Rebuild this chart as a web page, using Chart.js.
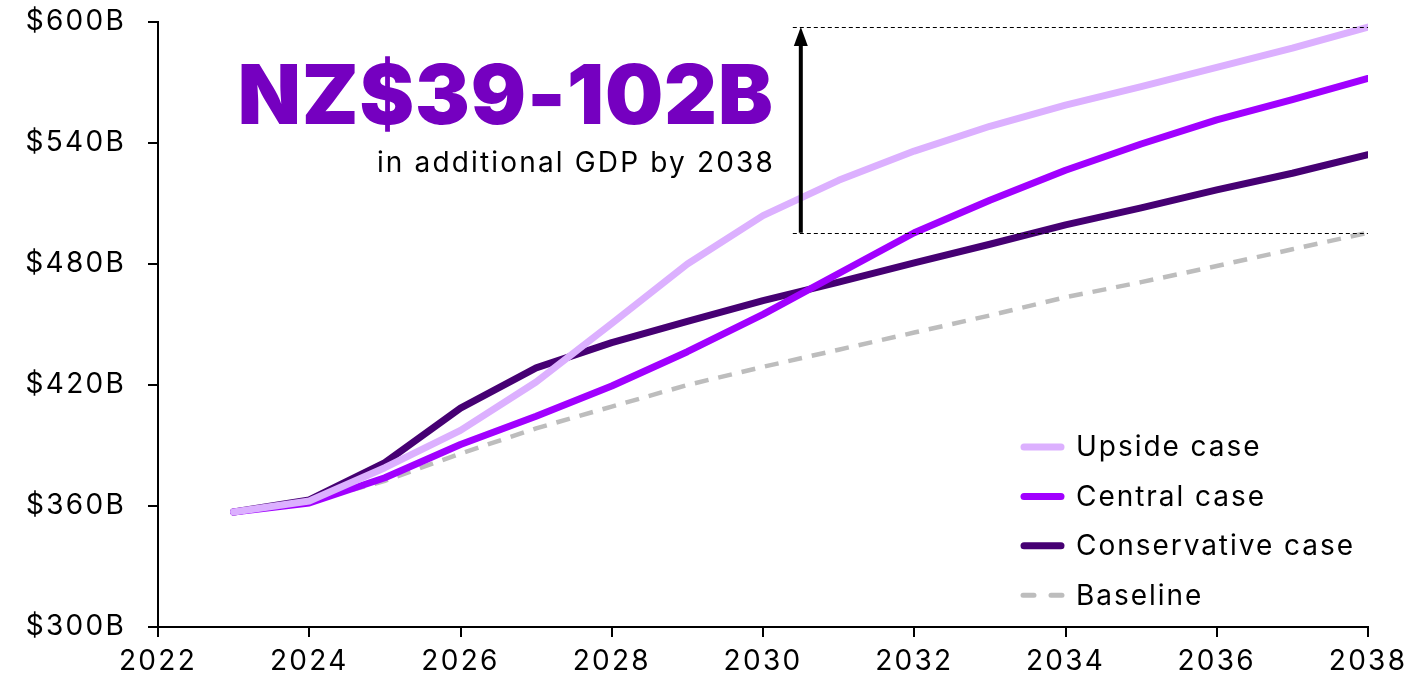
<!DOCTYPE html>
<html><head><meta charset="utf-8">
<script src="https://cdn.jsdelivr.net/npm/chart.js@4.4.1/dist/chart.umd.min.js"></script>
<style>html,body{margin:0;padding:0;background:#fff;overflow:hidden}</style>
</head><body>
<canvas id="c" width="1409" height="683"></canvas>
<script>
// ---- data ----
const years = [2023,2024,2025,2026,2027,2028,2029,2030,2031,2032,2033,2034,2035,2036,2037,2038];
const upsideCase       = [357,362.5,379,397.5,421.5,450.5,480,504,521.5,536,548.3,558.8,568,577.5,587,597.5];
const centralCase      = [357,361.5,374,390.5,404.5,419.5,436.5,455,475.3,495.5,511.6,526.5,539.5,551.5,561.5,572];
const conservativeCase = [357,363,381.5,408.5,428.5,441,451.5,461.8,471,480.6,489.8,499.4,507.8,516.8,525,534.2];
const baselineCase     = [357,362,372.5,386,398.5,409.3,420,429,437.5,446,454.5,463.5,471,479,487.3,495.5];
const seriesNames = ['Upside case','Central case','Conservative case','Baseline'];
const xRange = [2022, 2038, 2];   // min, max, step
const yRange = [300, 600, 60];
const headline = 'NZ$39-102B';
const subline = 'in additional GDP by 2038';
const arrowYear = 2030.5;

const FAM = "Inter, 'Noto Sans', sans-serif";
const pts = arr => years.map((x,i)=>({x:x, y:arr[i]}));

const styles = [
  {borderColor:'#DCB0FF', borderWidth:7},
  {borderColor:'#A100FF', borderWidth:7},
  {borderColor:'#460073', borderWidth:7},
  {borderColor:'#BDBDBD', borderWidth:4.5, borderDash:[14,10], borderCapStyle:'butt'}
];
const seriesData = [upsideCase, centralCase, conservativeCase, baselineCase];

function fitSpacing(ctx, text, target){
  ctx.letterSpacing = '0px';
  const w = ctx.measureText(text).width;
  return (target - w) / text.length;
}

const tickSpacing = {
  id:'tickSpacing',
  beforeDraw(chart){
    const ctx = chart.ctx;
    ctx.font = '400 28px ' + FAM;
    const a = fitSpacing(ctx, '$600B', 104);
    const b = fitSpacing(ctx, '2022', 75);
    ctx.letterSpacing = Math.max(0,(a+b)/2).toFixed(2) + 'px';
  }
};

const overlay = {
  id:'overlay',
  afterDraw(chart){
    const ctx = chart.ctx, xs = chart.scales.x, ys = chart.scales.y, ca = chart.chartArea;
    ctx.save();
    ctx.letterSpacing = '0px';
    const ax = xs.getPixelForValue(arrowYear);
    const yTop = ys.getPixelForValue(upsideCase[upsideCase.length-1]);
    const yBot = ys.getPixelForValue(baselineCase[baselineCase.length-1]);
    // dotted guides
    ctx.strokeStyle = '#000'; ctx.lineWidth = 1; ctx.setLineDash([4,3]);
    [yTop, yBot].forEach(y=>{
      ctx.beginPath(); ctx.moveTo(ax-8, Math.round(y)+0.5); ctx.lineTo(ca.right, Math.round(y)+0.5); ctx.stroke();
    });
    ctx.setLineDash([]);
    // arrow
    ctx.lineWidth = 4; ctx.fillStyle = '#000';
    ctx.beginPath(); ctx.moveTo(ax, yBot); ctx.lineTo(ax, yTop+16); ctx.stroke();
    ctx.beginPath(); ctx.moveTo(ax, yTop); ctx.lineTo(ax-7, yTop+19); ctx.lineTo(ax+7, yTop+19); ctx.closePath(); ctx.fill();
    // headline
    const rx = ax - 28;
    ctx.textAlign = 'right'; ctx.textBaseline = 'alphabetic';
    ctx.font = '900 82px ' + FAM;
    let ls = fitSpacing(ctx, headline, 536);
    ctx.letterSpacing = ls.toFixed(2)+'px';
    ctx.fillStyle = '#7500C0';
    ctx.fillText(headline, rx + ls, ca.top + 102);
    ctx.font = '400 28px ' + FAM;
    ls = fitSpacing(ctx, subline, 398);
    ctx.letterSpacing = ls.toFixed(2)+'px';
    ctx.fillStyle = '#000';
    ctx.fillText(subline, rx + ls, ca.top + 150);
    // legend
    ctx.font = '400 28px ' + FAM;
    ls = fitSpacing(ctx, 'Conservative case', 279);
    const lx = ca.right - 347, tx = ca.right - 292, ly0 = ca.top + 425, step = 49.4;
    chart.data.datasets.forEach((ds,i)=>{
      const y = ly0 + i*step;
      ctx.strokeStyle = ds.borderColor;
      if (ds.borderDash){
        ctx.lineWidth = 5; ctx.lineCap = 'round';
        ctx.beginPath(); ctx.moveTo(lx+2, y); ctx.lineTo(lx+13, y); ctx.moveTo(lx+30, y); ctx.lineTo(lx+41, y); ctx.stroke();
      } else {
        ctx.lineWidth = 7; ctx.lineCap = 'round';
        ctx.beginPath(); ctx.moveTo(lx+3, y); ctx.lineTo(lx+40, y); ctx.stroke();
      }
      ctx.letterSpacing = ls.toFixed(2)+'px';
      ctx.textAlign = 'left'; ctx.textBaseline = 'middle'; ctx.fillStyle = '#000';
      ctx.fillText(ds.label, tx, y+1);
      ctx.letterSpacing = '0px';
    });
    ctx.restore();
  }
};

const axisGrid = {display:true, drawOnChartArea:false, drawTicks:true, tickLength:10, color:'#000', lineWidth:2};
const axisBorder = {display:true, color:'#000', width:2};

new Chart(document.getElementById('c'), {
  type:'line',
  data:{
    datasets: seriesData.map((arr,i)=>Object.assign({
      label: seriesNames[i], data: pts(arr), fill:false, pointRadius:0,
      borderCapStyle:'round', borderJoinStyle:'round', tension:0
    }, styles[i]))
  },
  options:{
    responsive:false, animation:false, devicePixelRatio:1,
    layout:{padding:{top:22, right:41, left:0, bottom:0}},
    plugins:{legend:{display:false}, tooltip:{enabled:false}},
    scales:{
      x:{type:'linear', min:xRange[0], max:xRange[1],
         ticks:{stepSize:xRange[2], callback:v=>String(v), color:'#000', font:{family:FAM, size:28}, padding:8, maxRotation:0, autoSkip:false},
         grid:axisGrid, border:axisBorder,
         afterFit:s=>{s.height=56; s.paddingLeft=0; s.paddingRight=0;}},
      y:{type:'linear', min:yRange[0], max:yRange[1],
         ticks:{stepSize:yRange[2], callback:v=>'$'+v+'B', color:'#000', font:{family:FAM, size:28}, padding:22},
         grid:axisGrid, border:axisBorder,
         afterFit:s=>{s.width=158; s.paddingTop=0; s.paddingBottom=0;}}
    }
  },
  plugins:[tickSpacing, overlay]
});
</script>
</body></html>
